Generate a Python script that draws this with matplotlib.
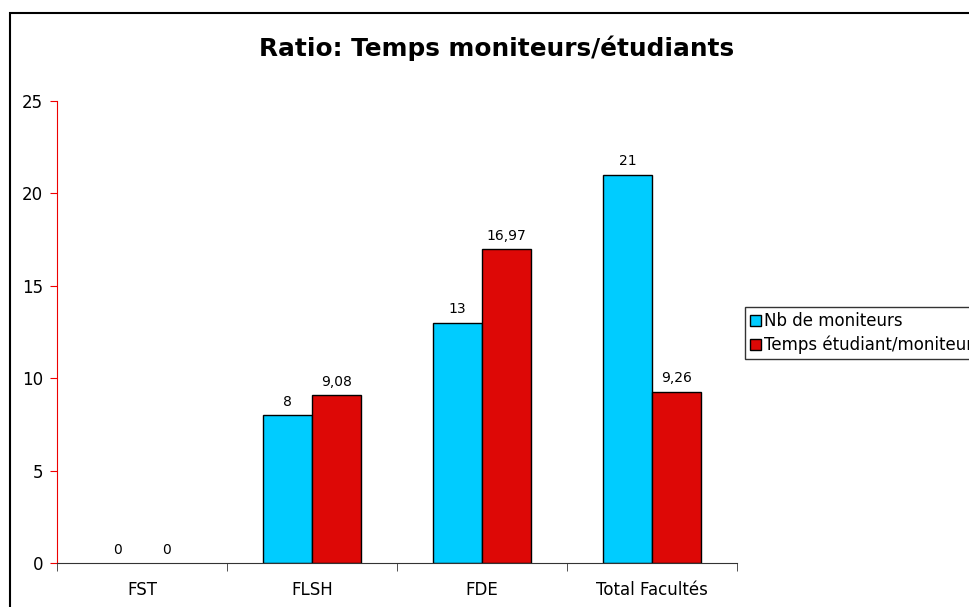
import matplotlib
matplotlib.use("Agg")
import matplotlib.pyplot as plt
import numpy as np
from matplotlib.patches import Rectangle, Patch

categories = ["FST", "FLSH", "FDE", "Total Facultés"]
nb_moniteurs = [0, 8, 13, 21]
temps = [0, 9.08, 16.97, 9.26]
labels_nb = ["0", "8", "13", "21"]
labels_temps = ["0", "9,08", "16,97", "9,26"]
series_names = ["Nb de moniteurs", "Temps étudiant/moniteur"]
yticks = [0, 5, 10, 15, 20, 25]
colors = ['#00CCFF', '#DD0806']

plt.rcParams['font.family'] = ['DejaVu Sans']
W, H = 970, 607
fig = plt.figure(figsize=(W/100, H/100), dpi=100)

# outer chart border
fig.patches.append(Rectangle((10/W, -0.1), 1.2, (H-13)/H + 0.1, transform=fig.transFigure,
                             fill=False, edgecolor='black', linewidth=1.5))

ax = fig.add_axes([57/W, 1-563/H, (737-57)/W, (563-101)/H])
x = np.arange(len(categories))
bw = 0.287
lw1 = [1.0 if v > 0 else 0 for v in nb_moniteurs]
lw2 = [1.0 if v > 0 else 0 for v in temps]
b1 = ax.bar(x - bw/2, nb_moniteurs, width=bw, color=colors[0], edgecolor='black', linewidth=lw1)
b2 = ax.bar(x + bw/2, temps, width=bw, color=colors[1], edgecolor='black', linewidth=lw2)

for xi, v, l in zip(x - bw/2, nb_moniteurs, labels_nb):
    ax.text(xi, v + 0.35, l, ha='center', va='bottom', fontsize=10)
for xi, v, l in zip(x + bw/2, temps, labels_temps):
    ax.text(xi, v + 0.35, l, ha='center', va='bottom', fontsize=10)

ax.set_xlim(-0.5, 3.5)
ax.set_ylim(0, 25)
ax.set_yticks(yticks)
ax.set_yticklabels([str(t) for t in yticks], fontsize=12)
ax.set_xticks(x)
ax.set_xticklabels(categories, fontsize=12)
ax.set_xticks(np.arange(-0.5, 4, 1), minor=True)
ax.tick_params(axis='x', which='major', length=0, pad=13)
ax.tick_params(axis='x', which='minor', length=6, color='#333333', direction='out')
ax.tick_params(axis='y', length=5, color='#EE0000', direction='out', pad=5)

for s in ['top', 'right']:
    ax.spines[s].set_visible(False)
ax.spines['left'].set_color('#EE0000')
ax.spines['bottom'].set_color('#333333')
ax.spines['bottom'].set_zorder(5)

fig.text(497/W, 1-48/H, "Ratio: Temps moniteurs/étudiants", ha='center', va='center',
         fontsize=17.8, fontweight='bold')

handles = [Patch(facecolor=c, edgecolor='black', linewidth=1.0) for c in colors]
leg = fig.legend(handles, series_names, loc='upper left', bbox_to_anchor=(745/W, 1-307/H),
                 frameon=True, fancybox=False, edgecolor='black', fontsize=12,
                 handlelength=0.65, handleheight=0.65, handletextpad=0.2, borderpad=0.3,
                 labelspacing=0.35, borderaxespad=0)
leg.get_frame().set_linewidth(1.0)

fig.savefig("out.png", dpi=100)
